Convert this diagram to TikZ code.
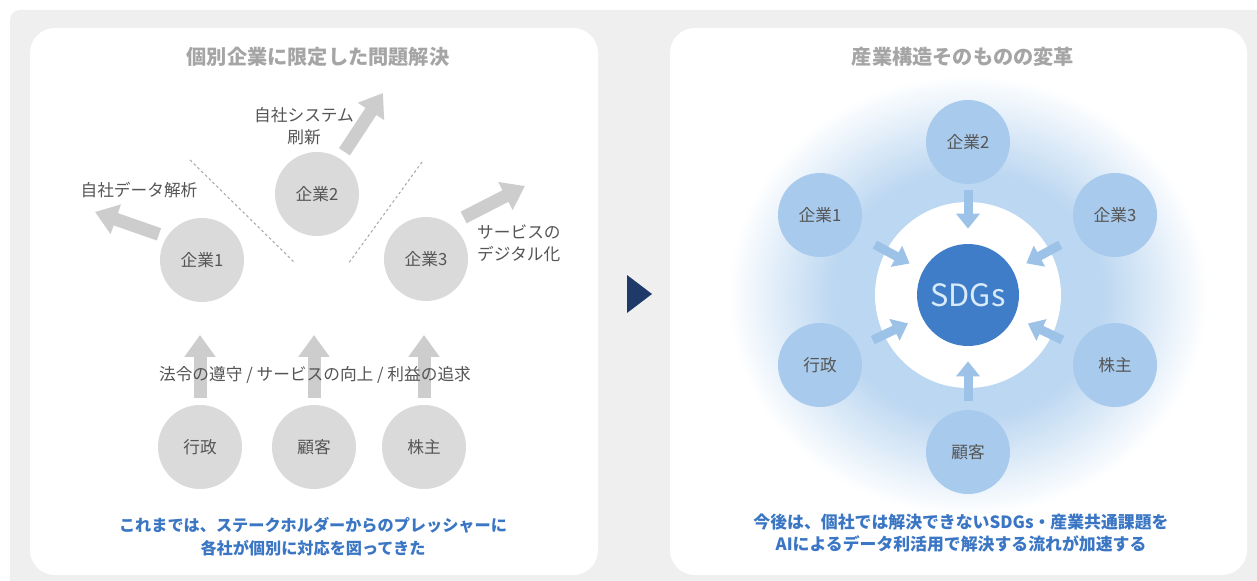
\documentclass[tikz,border=0pt]{standalone}
\usepackage{fontspec}
\setmainfont{Noto Sans CJK JP}
\usetikzlibrary{arrows.meta}
\definecolor{bggray}{HTML}{EFEFEF}
\definecolor{cgray}{HTML}{DADADA}
\definecolor{agray}{HTML}{CDCDCD}
\definecolor{tgray}{HTML}{A5A5A5}
\definecolor{lgray}{HTML}{555555}
\definecolor{msgblue}{HTML}{3A76C4}
\definecolor{navy}{HTML}{1F3A68}
\definecolor{cblue}{HTML}{A8CAEC}
\definecolor{ablue}{HTML}{9DC2E8}
\definecolor{sdgblue}{HTML}{3F7DC8}
\definecolor{sdgtext}{HTML}{D9EAF8}
\definecolor{glowc}{HTML}{BCD7F1}
\pgfdeclareradialshading{glow}{\pgfpoint{0bp}{0bp}}{color(0bp)=(glowc); color(14bp)=(glowc); color(25bp)=(white); color(50bp)=(white)}

\begin{document}
\begin{tikzpicture}[x=0.02cm, y=-0.02cm,
  gcirc/.style={circle, fill=cgray, minimum size=1.68cm, inner sep=0pt, text=lgray, font=\fontsize{9.5}{11}\selectfont},
  bcirc/.style={circle, fill=cblue, minimum size=1.68cm, inner sep=0pt, text=lgray, font=\fontsize{9.5}{11}\selectfont},
  garrow/.style={draw=agray, line width=0.26cm, -{Triangle[width=0.6cm,length=0.44cm]}, shorten <=#1},
  barrow/.style={draw=ablue, line width=0.18cm, -{Triangle[width=0.46cm,length=0.3cm]}, shorten <=#1, shorten >=0.3cm},
  note/.style={text=lgray, font=\fontsize{9.5}{12.5}\selectfont, align=center},
  heading/.style={text=tgray, font=\bfseries\fontsize{11.5}{14}\selectfont},
  message/.style={text=msgblue, font=\bfseries\fontsize{9.2}{13}\selectfont, align=center}]

	\fill[white] (0,0) rectangle (1257,581);
	\useasboundingbox (0,0) rectangle (1257,581);
	\fill[bggray, rounded corners=0.2cm] (10,10) rectangle (1290,610);
	\fill[white, rounded corners=0.5cm] (30,28) rectangle (598,575);
	\fill[white, rounded corners=0.5cm] (670,28) rectangle (1247,575);

	\node[heading] (tl) at (318,57) {個別企業に限定した問題解決};
	\node[heading] (tr) at (963,57) {産業構造そのものの変革};

	\draw[lgray!50, line width=0.6pt, dash pattern=on 1.5pt off 1.5pt] (190,160) -- (294,262);
	\draw[lgray!50, line width=0.6pt, dash pattern=on 1.5pt off 1.5pt] (422,162) -- (348,264);

	\node[gcirc] (k1) at (202,260) {企業1};
	\node[gcirc] (k2) at (317,194) {企業2};
	\node[gcirc] (k3) at (426,259) {企業3};
	\node[gcirc] (gy) at (200,447) {行政};
	\node[gcirc] (kk) at (314,447) {顧客};
	\node[gcirc] (kb) at (424,447) {株主};

	\coordinate (a1) at (95,212);
	\coordinate (a2) at (383,93);
	\coordinate (a3) at (525,186);
	\coordinate (b1) at (200,335);
	\coordinate (b2) at (314,335);
	\coordinate (b3) at (424,335);

	\draw[garrow=0.16cm] (k1.147) -- (a1);
	\draw[garrow=0.16cm] (k2.57) -- (a2);
	\draw[garrow=0.3cm] (k3.55) -- (a3);
	\draw[garrow=0.14cm] (gy) -- (b1);
	\draw[garrow=0.14cm] (kk) -- (b2);
	\draw[garrow=0.14cm] (kb) -- (b3);

	\node[note] (n1) at (139,190) {自社データ解析};
	\node[note] (n2) at (304,126) {自社システム\\刷新};
	\node[note, anchor=west, align=left] (n3) at (471,243) {サービスの\\デジタル化};
	\node[note] (n4) at (315,375) {法令の遵守 / サービスの向上 / 利益の追求};

	\node[message] (ml) at (313,537) {これまでは、ステークホルダーからのプレッシャーに\\各社が個別に対応を図ってきた};

	\fill[navy] (627,275) -- (652,294) -- (627,313) -- cycle;

	\shade[shading=glow] (968,295) ellipse [x radius=240, y radius=220];
	\node[circle, fill=white, minimum size=3.72cm, inner sep=0pt] (ring) at (968,295) {};
	\node[circle, fill=sdgblue, minimum size=2.04cm, inner sep=0pt, text=sdgtext, font=\fontsize{17.5}{20}\selectfont] (sdg) at (968,295) {SDGs};

	\node[bcirc] (r2) at (968,142) {企業2};
	\node[bcirc] (r1) at (820,215) {企業1};
	\node[bcirc] (r3) at (1115,215) {企業3};
	\node[bcirc] (rg) at (820,365) {行政};
	\node[bcirc] (rb) at (1115,365) {株主};
	\node[bcirc] (rk) at (968,452) {顧客};

	\draw[barrow=0.12cm] (r2) -- (sdg);
	\draw[barrow=0.4cm] (r1) -- (sdg);
	\draw[barrow=0.4cm] (r3) -- (sdg);
	\draw[barrow=0.32cm] (rg) -- (sdg);
	\draw[barrow=0.32cm] (rb) -- (sdg);
	\draw[barrow=0.18cm] (rk) -- (sdg);

	\node[message, font=\bfseries\fontsize{9.6}{12.5}\selectfont] (mr) at (961,533) {今後は、個社では解決できないSDGs・産業共通課題を\\AIによるデータ利活用で解決する流れが加速する};
\end{tikzpicture}
\end{document}
